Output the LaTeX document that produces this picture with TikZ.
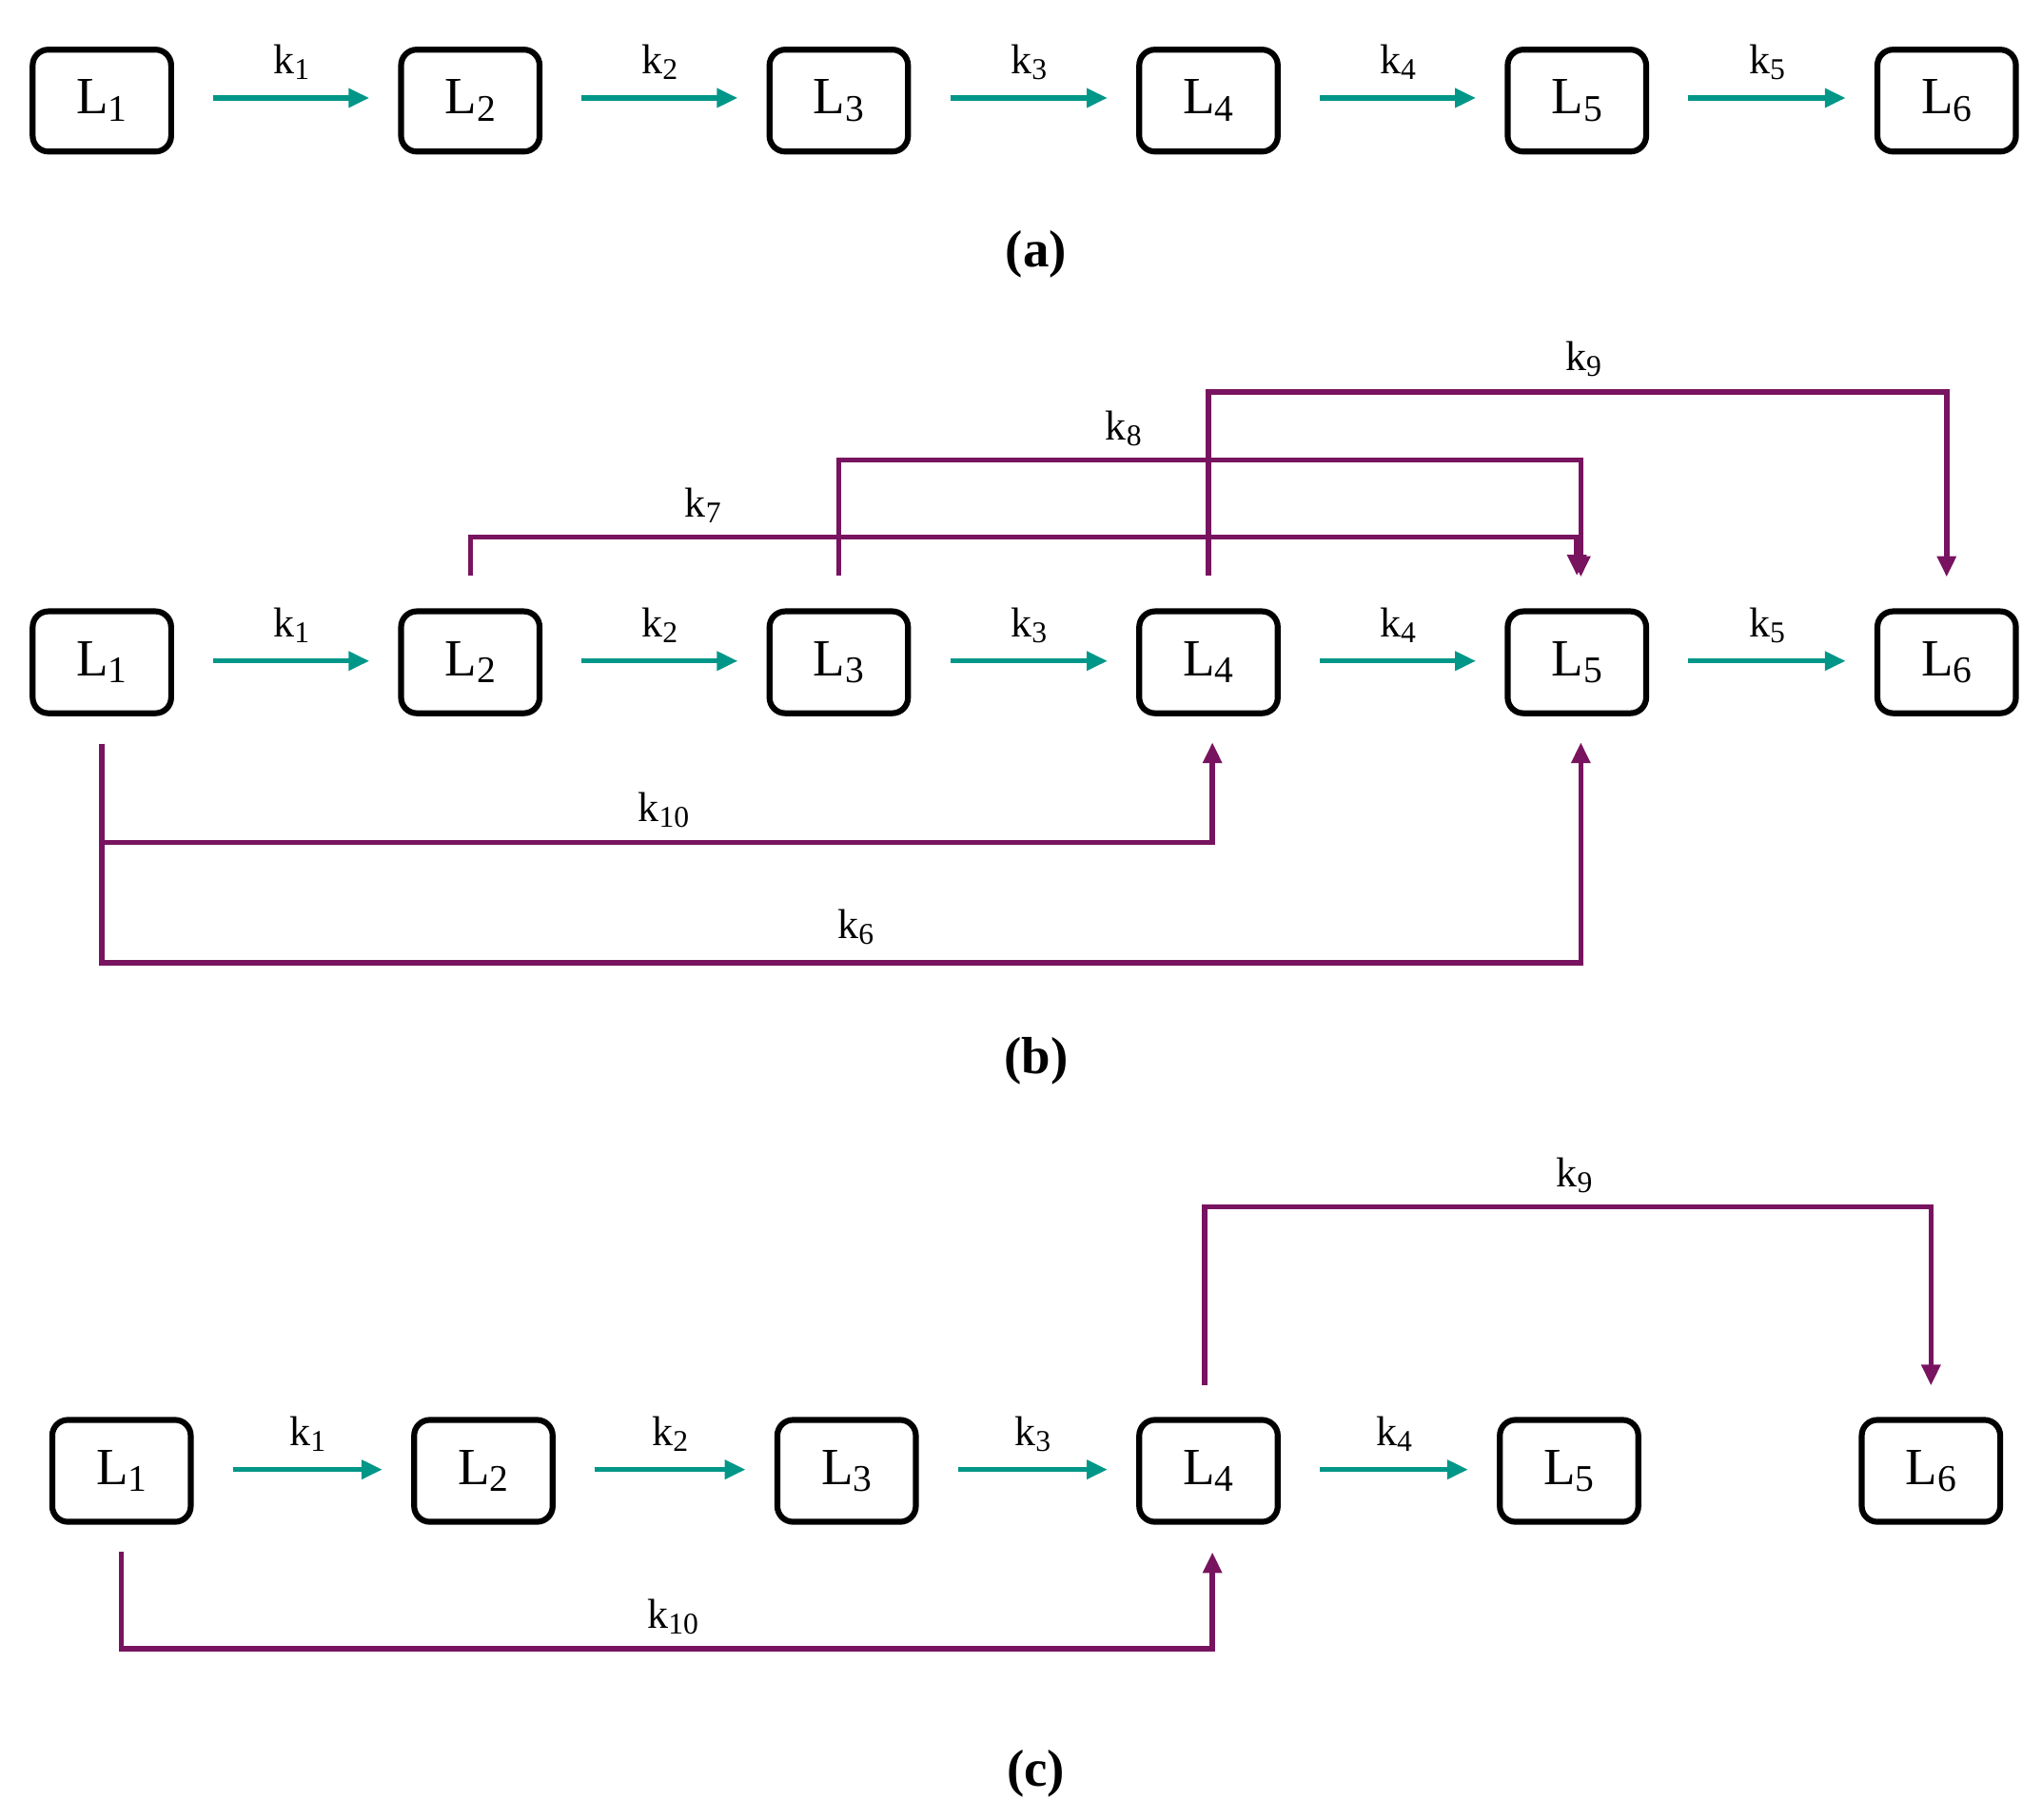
\documentclass[tikz,border=0pt]{standalone}
\usepackage{fontspec}
\setmainfont{Liberation Serif}
\usetikzlibrary{arrows.meta,calc}
\definecolor{teal1}{RGB}{0,150,136}
\definecolor{purp}{RGB}{120,20,95}
\newcommand\lsub[1]{\raisebox{-0.3ex}{\scalebox{0.72}{#1}}}
\begin{document}
\begin{tikzpicture}[x=1pt,y=-1pt,
 box/.style={draw,line width=4.5pt,rounded corners=12pt,minimum width=106pt,minimum height=78pt,inner sep=0pt,font=\fontsize{40}{44}\selectfont},
 kl/.style={font=\fontsize{32}{36}\selectfont,inner sep=0pt},
 ta/.style={draw=teal1,line width=4pt,-{Triangle[length=16pt,width=14pt]}},
 pa/.style={draw=purp,line width=4pt,-{Triangle[length=16pt,width=14pt]}},
 pl/.style={font=\fontsize{40}{44}\selectfont\bfseries}]
\useasboundingbox (0,0) rectangle (1563,1393);
% row a
\foreach \i/\x in {1/78,2/360,3/642,4/925,5/1207,6/1490}{\node[box] (a\i) at (\x,77) {L\lsub{\i}};}
\foreach \i/\j in {1/2,2/3,3/4,4/5,5/6}{
 \draw[ta] ($(a\i.east)+(30,-2)$) -- ($(a\j.west)+(-22,-2)$) node[kl,midway,above=12pt] {k\lsub{\i}};}
\node[pl] (la) at (793,195) {(a)};
% row b
\foreach \i/\x in {1/78,2/360,3/642,4/925,5/1207,6/1490}{\node[box] (b\i) at (\x,507) {L\lsub{\i}};}
\foreach \i/\j in {1/2,2/3,3/4,4/5,5/6}{
 \draw[ta] ($(b\i.east)+(30,-1)$) -- ($(b\j.west)+(-22,-1)$) node[kl,midway,above=12pt] {k\lsub{\i}};}
\draw[pa] ($(b2.north)+(0,-25)$) |- (1207,411) -- ($(b5.north)+(0,-25)$);
\node[kl] at (538,387) {k\lsub{7}};
\draw[pa] ($(b3.north)+(0,-25)$) |- (1210,352) -- ($(b5.north)+(3,-24)$);
\node[kl] at (860,328) {k\lsub{8}};
\draw[pa] ($(b4.north)+(0,-25)$) |- (1490,300) -- ($(b6.north)+(0,-24)$);
\node[kl] at (1212,275) {k\lsub{9}};
\draw[pa] ($(b1.south)+(0,21)$) |- (928,645) -- ($(b4.south)+(3,20)$);
\node[kl] at (508,620) {k\lsub{10}};
\draw[pa] ($(b1.south)+(0,21)$) |- (1210,737) -- ($(b5.south)+(3,20)$);
\node[kl] at (655,710) {k\lsub{6}};
\node[pl] (lb) at (793,812) {(b)};
% row c
\foreach \i/\x in {1/93,2/370,3/648,4/925,5/1201,6/1478}{\node[box] (c\i) at (\x,1126) {L\lsub{\i}};}
\foreach \i/\j in {1/2,2/3,3/4,4/5}{
 \draw[ta] ($(c\i.east)+(30,-1)$) -- ($(c\j.west)+(-22,-1)$) node[kl,midway,above=12pt] {k\lsub{\i}};}
\draw[pa] ($(c4.north)+(-3,-24)$) |- (1478,924) -- ($(c6.north)+(0,-24)$);
\node[kl] at (1205,900) {k\lsub{9}};
\draw[pa] ($(c1.south)+(0,21)$) |- (928,1262) -- ($(c4.south)+(3,21)$);
\node[kl] at (515,1238) {k\lsub{10}};
\node[pl] (lc) at (793,1358) {(c)};
\end{tikzpicture}
\end{document}
